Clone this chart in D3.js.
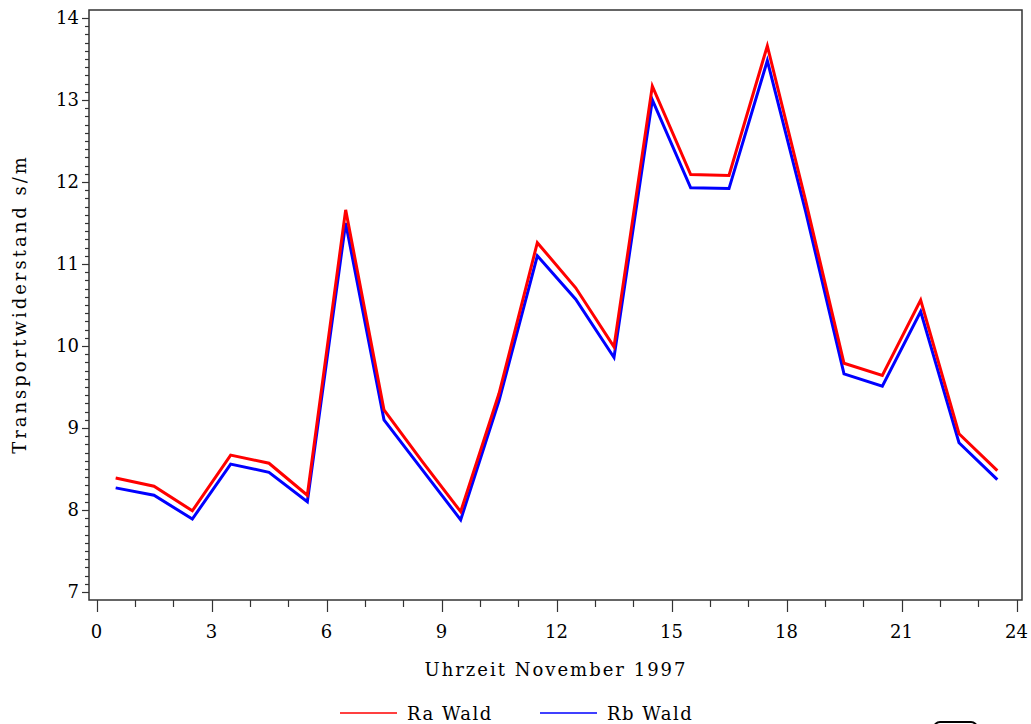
<!DOCTYPE html>
<html>
<head>
    <script src="https://d3js.org/d3.v7.min.js"></script>
    <style>
        body { margin: 0; background: #fff; }
        text { font-family: 'DejaVu Serif', serif; fill: #000; }
    </style>
</head>
<body>
<svg id="chart" width="1031" height="724"></svg>
<script>
    // hours (half-hour midpoints) and transport resistance values
    const hours = [0.5, 1.5, 2.5, 3.5, 4.5, 5.5, 6.5, 7.5, 8.5, 9.5, 10.5, 11.5,
                   12.5, 13.5, 14.5, 15.5, 16.5, 17.5, 18.5, 19.5, 20.5, 21.5, 22.5, 23.5];
    const raWald = [8.39, 8.29, 7.99, 8.67, 8.57, 8.18, 11.66, 9.22, 8.59, 7.98, 9.42, 11.26,
                    10.71, 9.99, 13.17, 12.09, 12.08, 13.66, 11.77, 9.79, 9.64, 10.56, 8.93, 8.48];
    const rbWald = [8.27, 8.18, 7.89, 8.56, 8.46, 8.10, 11.50, 9.10, 8.49, 7.88, 9.33, 11.10,
                    10.57, 9.86, 13.00, 11.93, 11.92, 13.48, 11.64, 9.66, 9.51, 10.42, 8.82, 8.37];
    const xTicks = [0, 3, 6, 9, 12, 15, 18, 21, 24];
    const yTicks = [7, 8, 9, 10, 11, 12, 13, 14];

    const svg = d3.select("#chart");
    const frame = { left: 89, top: 10, right: 1022, bottom: 600 };

    const x = d3.scaleLinear().domain([0, 24]).range([96.5, 1016.5]);
    const y = d3.scaleLinear().domain([7, 14]).range([592, 18]);

    // frame
    svg.append("rect")
        .attr("x", frame.left).attr("y", frame.top)
        .attr("width", frame.right - frame.left).attr("height", frame.bottom - frame.top)
        .attr("fill", "none").attr("stroke", "#333").attr("stroke-width", 1.5);

    // y axis ticks
    const yMinor = d3.range(70, 141).map(d => d / 10);
    svg.append("g").selectAll("line").data(yMinor).join("line")
        .attr("x1", d => (Math.abs(d - Math.round(d)) < 1e-6) ? frame.left - 7 : frame.left - 4)
        .attr("x2", frame.left)
        .attr("y1", d => Math.round(y(d)) + 0.5).attr("y2", d => Math.round(y(d)) + 0.5)
        .attr("stroke", "#333").attr("stroke-width", 1.2);
    svg.append("g").selectAll("text").data(yTicks).join("text")
        .attr("x", 79).attr("y", d => y(d)).attr("dy", "0.36em")
        .attr("text-anchor", "end").attr("font-size", 18)
        .text(d => d);

    // x axis ticks
    const xMinor = d3.range(0, 25);
    svg.append("g").selectAll("line").data(xMinor).join("line")
        .attr("x1", d => Math.round(x(d)) + 0.5).attr("x2", d => Math.round(x(d)) + 0.5)
        .attr("y1", frame.bottom)
        .attr("y2", d => d % 3 === 0 ? frame.bottom + 12 : frame.bottom + 7)
        .attr("stroke", "#333").attr("stroke-width", 1.2);
    svg.append("g").selectAll("text").data(xTicks).join("text")
        .attr("x", d => x(d)).attr("y", 638)
        .attr("text-anchor", "middle").attr("font-size", 18)
        .text(d => d);

    // axis titles
    svg.append("text")
        .attr("x", 556).attr("y", 676)
        .attr("text-anchor", "middle").attr("font-size", 18)
        .attr("letter-spacing", 2)
        .text("Uhrzeit November 1997");
    svg.append("text")
        .attr("transform", "translate(26,304) rotate(-90)")
        .attr("text-anchor", "middle").attr("font-size", 18)
        .attr("letter-spacing", 3)
        .text("Transportwiderstand s/m");

    // lines
    const line = (vals) => d3.line()
        .x((d, i) => x(hours[i]))
        .y(d => y(d))(vals);

    svg.append("path").attr("d", line(rbWald))
        .attr("fill", "none").attr("stroke", "#0000ff").attr("stroke-width", 3)
        .attr("stroke-linejoin", "miter");
    svg.append("path").attr("d", line(raWald))
        .attr("fill", "none").attr("stroke", "#ff0000").attr("stroke-width", 3)
        .attr("stroke-linejoin", "miter");

    // legend
    const legend = [
        { name: "Ra Wald", color: "#ff0000", x: 340 },
        { name: "Rb Wald", color: "#0000ff", x: 540 }
    ];
    const lg = svg.append("g").selectAll("g").data(legend).join("g")
        .attr("transform", d => `translate(${d.x},713)`);
    lg.append("line").attr("x1", 0).attr("x2", 57).attr("y1", 0).attr("y2", 0)
        .attr("stroke", d => d.color).attr("stroke-width", 1.5);
    lg.append("text").attr("x", 67).attr("y", 7).attr("font-size", 18)
        .attr("letter-spacing", 1.5)
        .text(d => d.name);

    // partially visible box at bottom right
    svg.append("rect")
        .attr("x", 934).attr("y", 722).attr("width", 43).attr("height", 20).attr("rx", 6)
        .attr("fill", "none").attr("stroke", "#000").attr("stroke-width", 2);
</script>
</body>
</html>
